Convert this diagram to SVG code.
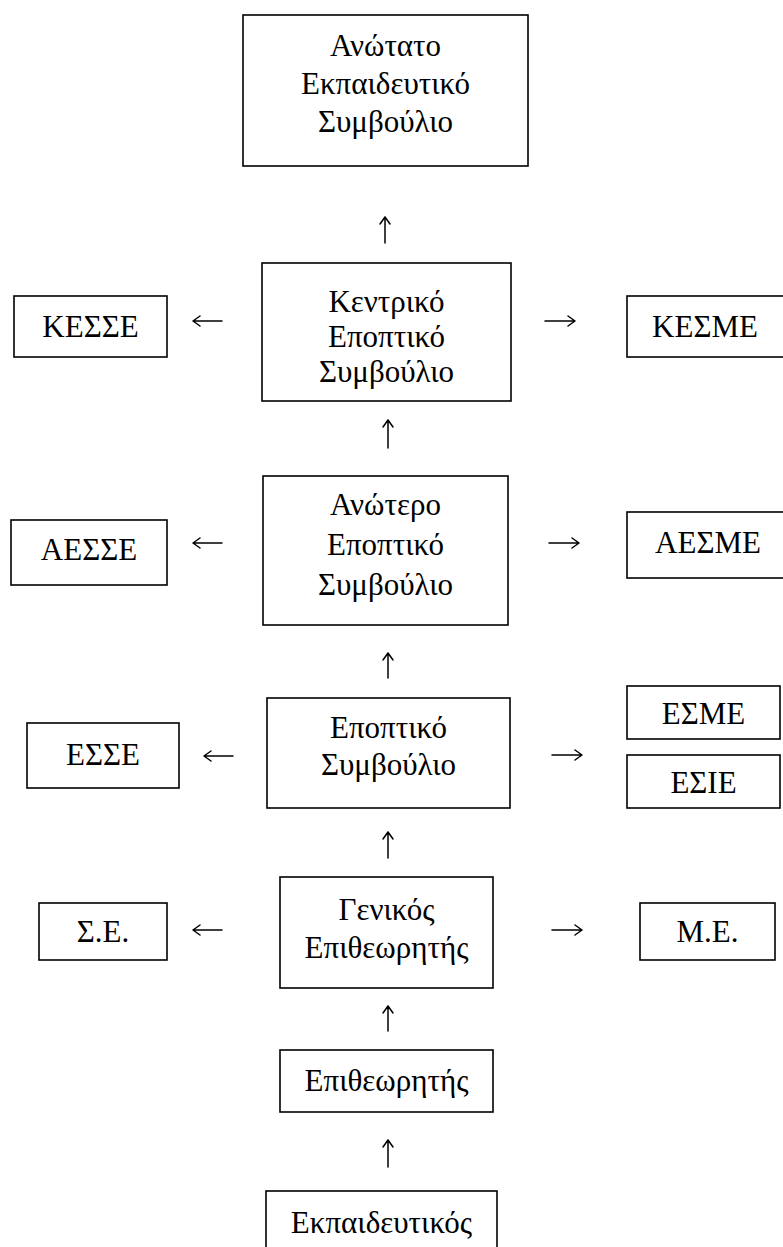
<svg xmlns="http://www.w3.org/2000/svg" width="783" height="1247" viewBox="0 0 783 1247">
<style>
.box{fill:#fff;stroke:#000;stroke-width:1.6}
.t{font-family:"Liberation Serif","Times New Roman","DejaVu Serif",serif;font-size:31px;fill:#000;text-anchor:middle}
.c{fill:none;stroke:#000;stroke-width:1.5;stroke-linecap:round;stroke-linejoin:round}
</style>
<rect width="783" height="1247" fill="#fff"/>
<g id="connectors">
<path class="c" d="M385,243 V217 M380,224 L385,217 L390,224"/>
<path class="c" d="M222,321 H193 M200,316 L193,321 L200,326"/>
<path class="c" d="M545,321 H575 M568,316 L575,321 L568,326"/>
<path class="c" d="M388,448 V420 M383,427 L388,420 L393,427"/>
<path class="c" d="M222,543 H193 M200,538 L193,543 L200,548"/>
<path class="c" d="M549,543 H579 M572,538 L579,543 L572,548"/>
<path class="c" d="M388,678 V653 M383,660 L388,653 L393,660"/>
<path class="c" d="M233,756 H204 M211,751 L204,756 L211,761"/>
<path class="c" d="M552,755 H582 M575,750 L582,755 L575,760"/>
<path class="c" d="M388,858 V832 M383,839 L388,832 L393,839"/>
<path class="c" d="M222,930 H193 M200,925 L193,930 L200,935"/>
<path class="c" d="M552,930 H582 M575,925 L582,930 L575,935"/>
<path class="c" d="M388,1031 V1006 M383,1013 L388,1006 L393,1013"/>
<path class="c" d="M388,1167 V1140 M383,1147 L388,1140 L393,1147"/>
</g>
<g id="anotato"><rect class="box" x="243" y="15" width="285" height="151"/>
<text class="t" x="385.5" y="56">Ανώτατο</text><text class="t" x="385.5" y="94">Εκπαιδευτικό</text><text class="t" x="385.5" y="132">Συμβούλιο</text></g>
<g id="kesse"><rect class="box" x="14" y="296" width="153" height="61"/><text class="t" x="90.5" y="337">ΚΕΣΣΕ</text></g>
<g id="kentriko"><rect class="box" x="262" y="263" width="249" height="138"/>
<text class="t" x="386.5" y="312">Κεντρικό</text><text class="t" x="386.5" y="347">Εποπτικό</text><text class="t" x="386.5" y="382">Συμβούλιο</text></g>
<g id="kesme"><rect class="box" x="627" y="296" width="160" height="61"/><text class="t" x="705" y="337">ΚΕΣΜΕ</text></g>
<g id="aesse"><rect class="box" x="11" y="520" width="156" height="65"/><text class="t" x="89" y="560">ΑΕΣΣΕ</text></g>
<g id="anotero"><rect class="box" x="263" y="476" width="245" height="149"/>
<text class="t" x="385.5" y="515">Ανώτερο</text><text class="t" x="385.5" y="555">Εποπτικό</text><text class="t" x="385.5" y="595">Συμβούλιο</text></g>
<g id="aesme"><rect class="box" x="627" y="512" width="160" height="66"/><text class="t" x="708" y="553">ΑΕΣΜΕ</text></g>
<g id="esse"><rect class="box" x="27" y="723" width="152" height="65"/><text class="t" x="103" y="765">ΕΣΣΕ</text></g>
<g id="epoptiko"><rect class="box" x="267" y="698" width="243" height="110"/>
<text class="t" x="388.5" y="738">Εποπτικό</text><text class="t" x="388.5" y="775">Συμβούλιο</text></g>
<g id="esme"><rect class="box" x="627" y="686" width="153" height="53"/><text class="t" x="703.5" y="724">ΕΣΜΕ</text></g>
<g id="esie"><rect class="box" x="627" y="755" width="153" height="53"/><text class="t" x="703.5" y="793">ΕΣΙΕ</text></g>
<g id="se"><rect class="box" x="39" y="903" width="128" height="57"/><text class="t" x="103" y="942">Σ.Ε.</text></g>
<g id="genikos"><rect class="box" x="280" y="877" width="213" height="111"/>
<text class="t" x="386.5" y="920">Γενικός</text><text class="t" x="386.5" y="958">Επιθεωρητής</text></g>
<g id="me"><rect class="box" x="640" y="903" width="135" height="57"/><text class="t" x="707.5" y="942">Μ.Ε.</text></g>
<g id="epitheoritis"><rect class="box" x="280" y="1050" width="213" height="62"/><text class="t" x="386.5" y="1091">Επιθεωρητής</text></g>
<g id="ekpaideftikos"><rect class="box" x="266" y="1191" width="231" height="70"/><text class="t" x="381.5" y="1233">Εκπαιδευτικός</text></g>
</svg>
